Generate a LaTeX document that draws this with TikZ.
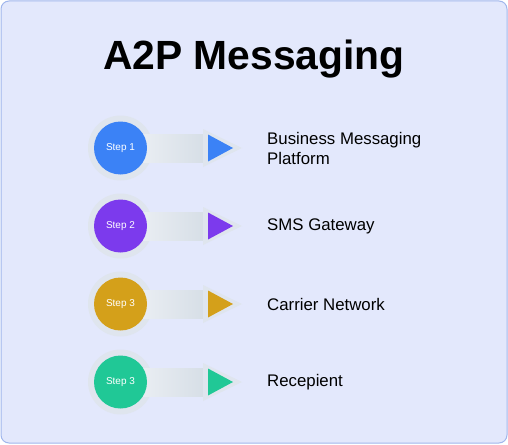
\documentclass[tikz,border=0pt]{standalone}
\usepackage{fontspec}
\setmainfont{Liberation Sans}
\definecolor{BackClr}{RGB}{227,232,252}
\definecolor{FrameClr}{RGB}{160,182,236}
\definecolor{HaloClr}{RGB}{223,229,238}
\definecolor{BarLeft}{RGB}{234,238,243}
\definecolor{BarRight}{RGB}{214,222,230}
\definecolor{StepBlue}{RGB}{59,130,246}
\definecolor{StepPurple}{RGB}{124,58,237}
\definecolor{StepGold}{RGB}{212,160,26}
\definecolor{StepGreen}{RGB}{32,200,150}

\begin{document}
\begin{tikzpicture}[x=1pt,y=-1pt,
  stepdot/.style={circle,minimum size=53pt,inner sep=0pt,text=white,
    font=\fontsize{10}{12}\selectfont},
  steplabel/.style={anchor=west,inner sep=0pt,align=left,
    font=\fontsize{16.8}{20}\selectfont}]
\useasboundingbox (0,0) rectangle (508,444);
\draw[rounded corners=8pt,fill=BackClr,draw=FrameClr,line width=1pt] (1,1) rectangle (507,443);

\node[anchor=base,font=\bfseries\fontsize{40.8}{44}\selectfont] (title) at (254,70) {A2P Messaging};

\foreach \i/\y/\clr/\txt/\lbl in {1/148/StepBlue/Step 1/{Business Messaging\\Platform},
  2/226/StepPurple/Step 2/SMS Gateway,
  3/304/StepGold/Step 3/Carrier Network,
  4/382/StepGreen/Step 3/Recepient}{
  \fill[HaloClr] (120.5,\y) circle (32.5);
  \fill[left color=BarLeft,right color=BarRight] (140,\y-13.5) rectangle (206,\y+14);
  \fill[HaloClr] (203,\y-19) -- (242,\y) -- (203,\y+19) -- cycle;
  \fill[\clr] (208,\y-13.5) -- (233,\y) -- (208,\y+13.5) -- cycle;
  \node[stepdot,fill=\clr] (step\i) at (120.5,\y) {\txt};
  \node[steplabel] (label\i) at (267,\y) {\lbl};
}
\end{tikzpicture}
\end{document}
